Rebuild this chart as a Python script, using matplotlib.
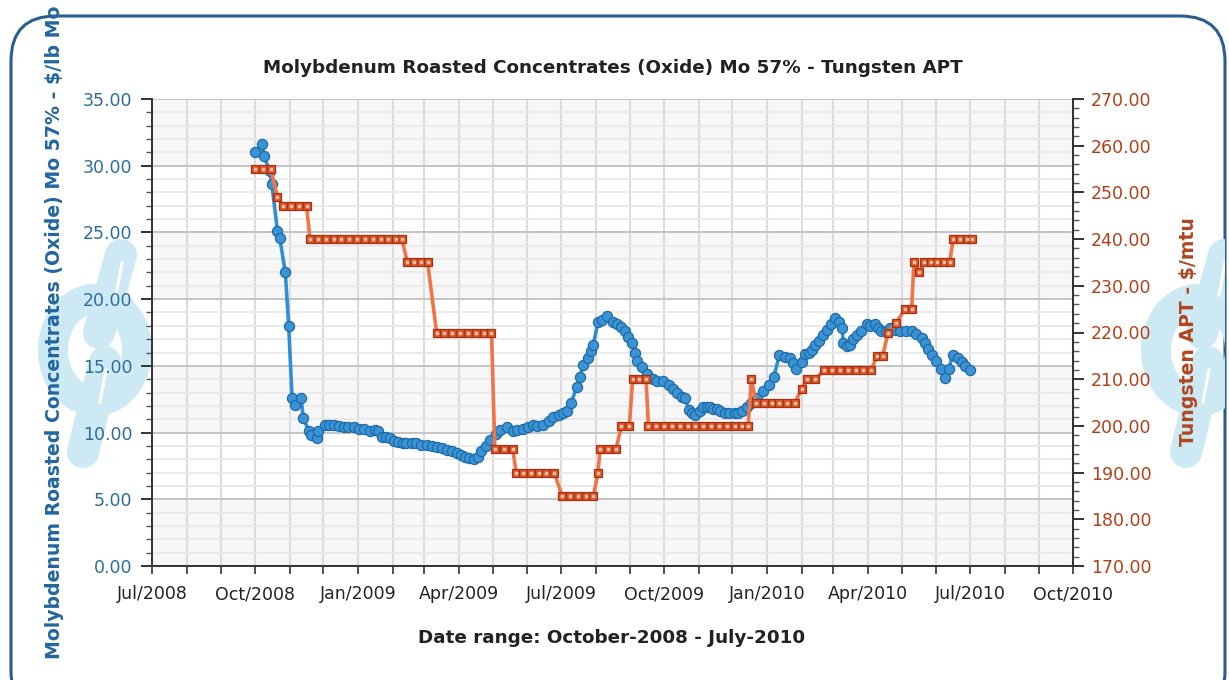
import matplotlib
matplotlib.use('Agg')
import matplotlib.pyplot as plt
import matplotlib.dates as mdates
import matplotlib.patches as patches
from matplotlib.ticker import MultipleLocator, FormatStrFormatter
import pandas as pd

# --- data ---
mo_dates = ['2008-10-01', '2008-10-07', '2008-10-09', '2008-10-14', '2008-10-16', '2008-10-21',
            '2008-10-23', '2008-10-28', '2008-10-31', '2008-11-03', '2008-11-06', '2008-11-11',
            '2008-11-13', '2008-11-18', '2008-11-20', '2008-11-25', '2008-11-26', '2008-12-02',
            '2008-12-06', '2008-12-10', '2008-12-15', '2008-12-19', '2008-12-23', '2008-12-28',
            '2009-01-02', '2009-01-06', '2009-01-12', '2009-01-16', '2009-01-19', '2009-01-22',
            '2009-01-26', '2009-01-29', '2009-02-02', '2009-02-06', '2009-02-10', '2009-02-13',
            '2009-02-18', '2009-02-22', '2009-02-26', '2009-03-03', '2009-03-08', '2009-03-12',
            '2009-03-17', '2009-03-21', '2009-03-26', '2009-03-30', '2009-04-03', '2009-04-06',
            '2009-04-10', '2009-04-14', '2009-04-18', '2009-04-21', '2009-04-25', '2009-04-29',
            '2009-05-04', '2009-05-08', '2009-05-14', '2009-05-19', '2009-05-23', '2009-05-28',
            '2009-06-02', '2009-06-06', '2009-06-10', '2009-06-15', '2009-06-20', '2009-06-24',
            '2009-06-29', '2009-07-03', '2009-07-06', '2009-07-10', '2009-07-15', '2009-07-18',
            '2009-07-21', '2009-07-25', '2009-07-28', '2009-07-30', '2009-08-03', '2009-08-07',
            '2009-08-11', '2009-08-16', '2009-08-20', '2009-08-24', '2009-08-27', '2009-08-30',
            '2009-09-02', '2009-09-05', '2009-09-07', '2009-09-11', '2009-09-16', '2009-09-21',
            '2009-09-25', '2009-09-30', '2009-10-05', '2009-10-09', '2009-10-13', '2009-10-17',
            '2009-10-20', '2009-10-23', '2009-10-26', '2009-10-29', '2009-11-02', '2009-11-05',
            '2009-11-08', '2009-11-11', '2009-11-14', '2009-11-17', '2009-11-20', '2009-11-24',
            '2009-11-28', '2009-12-03', '2009-12-06', '2009-12-10', '2009-12-14', '2009-12-18',
            '2009-12-23', '2009-12-28', '2010-01-03', '2010-01-07', '2010-01-12', '2010-01-17',
            '2010-01-21', '2010-01-24', '2010-01-27', '2010-02-01', '2010-02-04', '2010-02-07',
            '2010-02-10', '2010-02-13', '2010-02-16', '2010-02-20', '2010-02-23', '2010-02-27',
            '2010-03-03', '2010-03-06', '2010-03-09', '2010-03-10', '2010-03-13', '2010-03-16',
            '2010-03-19', '2010-03-22', '2010-03-26', '2010-03-31', '2010-04-03', '2010-04-07',
            '2010-04-10', '2010-04-13', '2010-04-17', '2010-04-21', '2010-04-25', '2010-04-30',
            '2010-05-05', '2010-05-10', '2010-05-14', '2010-05-19', '2010-05-22', '2010-05-25',
            '2010-05-28', '2010-06-01', '2010-06-05', '2010-06-09', '2010-06-12', '2010-06-16',
            '2010-06-20', '2010-06-24', '2010-06-27', '2010-07-01']
mo_price = [31.0, 31.6, 30.7, 29.6, 28.6, 25.1,
            24.6, 22.0, 18.0, 12.6, 12.1, 12.6,
            11.1, 10.1, 9.8, 9.6, 10.1, 10.6,
            10.6, 10.6, 10.5, 10.4, 10.4, 10.4,
            10.3, 10.3, 10.1, 10.2, 10.1, 9.7,
            9.7, 9.6, 9.4, 9.3, 9.2, 9.2,
            9.2, 9.2, 9.1, 9.07, 9.0, 8.95,
            8.85, 8.7, 8.6, 8.45, 8.3, 8.2,
            8.1, 8.0, 8.2, 8.6, 9.0, 9.45,
            9.9, 10.2, 10.4, 10.1, 10.2, 10.3,
            10.4, 10.6, 10.5, 10.6, 10.9, 11.2,
            11.3, 11.5, 11.6, 12.2, 13.4, 14.2,
            15.1, 15.6, 16.1, 16.6, 18.3, 18.4,
            18.7, 18.3, 18.1, 17.9, 17.6, 17.2,
            16.7, 16.0, 15.4, 14.9, 14.4, 14.0,
            13.9, 13.9, 13.6, 13.3, 13.0, 12.7,
            12.6, 11.7, 11.5, 11.3, 11.6, 11.9,
            11.9, 11.95, 11.8, 11.8, 11.6, 11.5,
            11.45, 11.45, 11.5, 11.6, 11.9, 12.2,
            12.6, 13.1, 13.6, 14.2, 15.8, 15.7,
            15.6, 15.2, 14.8, 15.3, 15.9, 16.0,
            16.2, 16.6, 16.9, 17.3, 17.7, 18.1,
            18.6, 18.3, 17.8, 16.7, 16.5, 16.6,
            17.0, 17.3, 17.6, 18.1, 18.0, 18.1,
            17.8, 17.6, 17.6, 17.8, 17.7, 17.6,
            17.6, 17.6, 17.4, 17.1, 16.7, 16.3,
            15.8, 15.4, 14.8, 14.1, 14.8, 15.8,
            15.6, 15.3, 15.0, 14.7]

w_dates = ['2008-10-01', '2008-10-08', '2008-10-15', '2008-10-21', '2008-10-26', '2008-11-02',
           '2008-11-09', '2008-11-16', '2008-11-19', '2008-11-26', '2008-12-03', '2008-12-10',
           '2008-12-17', '2008-12-24', '2008-12-31', '2009-01-07', '2009-01-14', '2009-01-21',
           '2009-01-28', '2009-02-04', '2009-02-09', '2009-02-14', '2009-02-20', '2009-02-26',
           '2009-03-04', '2009-03-12', '2009-03-19', '2009-03-26', '2009-04-02', '2009-04-09',
           '2009-04-16', '2009-04-23', '2009-04-30', '2009-05-03', '2009-05-11', '2009-05-19',
           '2009-05-22', '2009-05-28', '2009-06-04', '2009-06-11', '2009-06-18', '2009-06-25',
           '2009-07-02', '2009-07-09', '2009-07-16', '2009-07-23', '2009-07-30', '2009-08-03',
           '2009-08-05', '2009-08-12', '2009-08-19', '2009-08-24', '2009-08-31', '2009-09-03',
           '2009-09-09', '2009-09-15', '2009-09-17', '2009-09-24', '2009-10-01', '2009-10-08',
           '2009-10-15', '2009-10-22', '2009-10-29', '2009-11-05', '2009-11-12', '2009-11-19',
           '2009-11-26', '2009-12-03', '2009-12-10', '2009-12-15', '2009-12-18', '2009-12-22',
           '2009-12-29', '2010-01-05', '2010-01-12', '2010-01-19', '2010-01-26', '2010-02-01',
           '2010-02-06', '2010-02-13', '2010-02-21', '2010-02-28', '2010-03-07', '2010-03-14',
           '2010-03-21', '2010-03-28', '2010-04-04', '2010-04-09', '2010-04-14', '2010-04-19',
           '2010-04-26', '2010-05-04', '2010-05-10', '2010-05-12', '2010-05-17', '2010-05-21',
           '2010-05-27', '2010-06-02', '2010-06-08', '2010-06-13', '2010-06-16', '2010-06-22',
           '2010-06-28', '2010-07-03']
w_price = [255, 255, 255, 249, 247, 247,
           247, 247, 240, 240, 240, 240,
           240, 240, 240, 240, 240, 240,
           240, 240, 240, 235, 235, 235,
           235, 220, 220, 220, 220, 220,
           220, 220, 220, 195, 195, 195,
           190, 190, 190, 190, 190, 190,
           185, 185, 185, 185, 185, 190,
           195, 195, 195, 200, 200, 210,
           210, 210, 200, 200, 200, 200,
           200, 200, 200, 200, 200, 200,
           200, 200, 200, 200, 210, 205,
           205, 205, 205, 205, 205, 208,
           210, 210, 212, 212, 212, 212,
           212, 212, 212, 215, 215, 220,
           222, 225, 225, 235, 233, 235,
           235, 235, 235, 235, 240, 240,
           240, 240]

mo_dates = pd.to_datetime(mo_dates)
w_dates = pd.to_datetime(w_dates)

W, H = 1229, 680
fig = plt.figure(figsize=(W / 100, H / 100), dpi=100)
fig.patch.set_facecolor('white')

# --- frame & watermark (pixel coordinates) ---
bg = fig.add_axes([0, 0, 1, 1], zorder=0)
bg.set_xlim(0, W); bg.set_ylim(H, 0); bg.axis('off')
frame = patches.FancyBboxPatch((11, 16), 1214, 700, boxstyle='round,pad=0,rounding_size=45',
                               fc='white', ec='#2c5d8f', lw=2.2, zorder=1)
bg.add_patch(frame)
wm = '#cdeaf4'
pt = 72 / 100  # px -> pt
for cx in [95, 1198]:
    ring = patches.Ellipse((cx, 350), 84, 102, fill=False, ec=wm, lw=30 * pt, zorder=2)
    bg.add_patch(ring)
    ring.set_clip_path(frame)
    for (x1, y1, x2, y2) in [(cx + 26, 255, cx + 4, 333), (cx + 10, 362, cx - 12, 452)]:
        ln, = bg.plot([x1, x2], [y1, y2], color=wm, lw=32 * pt, solid_capstyle='round', zorder=2)
        ln.set_clip_path(frame)
        sl, = bg.plot([x1 + 1, x1 - 5], [y1 + 8, y1 + 40], color='white', lw=3 * pt, zorder=3)
        sl.set_clip_path(frame)

# --- main axes ---
ax = fig.add_axes([152 / W, 1 - 566 / H, (1073 - 152) / W, (566 - 99) / H], zorder=2)
ax.set_facecolor('white')
for lo in [0, 10, 20, 30]:
    ax.axhspan(lo, lo + 5, color='#f7f7f7', zorder=0, lw=0)

ax.set_xlim(pd.Timestamp('2008-07-01'), pd.Timestamp('2010-10-01'))
ax.set_ylim(0, 35)
ax.xaxis.set_major_locator(mdates.MonthLocator(bymonth=[1, 4, 7, 10]))
ax.xaxis.set_minor_locator(mdates.MonthLocator())
ax.xaxis.set_major_formatter(mdates.DateFormatter('%b/%Y'))
ax.yaxis.set_major_locator(MultipleLocator(5))
ax.yaxis.set_minor_locator(MultipleLocator(1))
ax.yaxis.set_major_formatter(FormatStrFormatter('%.2f'))

ax.grid(True, axis='x', which='both', color='#dcdcdc', lw=1.5, zorder=0.5)
ax.grid(True, axis='y', which='minor', color='#e8e8e8', lw=1.2, zorder=0.5)
ax.grid(True, axis='y', which='major', color='#c4c4c4', lw=1.4, zorder=0.6)
ax.set_axisbelow(True)

for s in ['left', 'bottom', 'right']:
    ax.spines[s].set_color('#333333'); ax.spines[s].set_linewidth(1.4)
ax.spines['top'].set_visible(False)
ax.tick_params(axis='y', which='major', length=8, width=1.4, color='#333333',
               labelsize=12.5, labelcolor='#2b6c9e', pad=6)
ax.tick_params(axis='y', which='minor', length=4, width=1, color='#555555')
ax.tick_params(axis='x', which='both', length=6, width=1.2, color='#333333',
               labelsize=12.5, labelcolor='#222222', pad=8)

ax.plot(mo_dates, mo_price, color='#2e8fd6', lw=2.6, marker='o', ms=7.3,
        mfc='#3a93d4', mec='#1e6aa6', mew=0.9, zorder=3)

ax2 = ax.twinx()
ax2.set_ylim(170, 270)
ax2.yaxis.set_major_locator(MultipleLocator(10))
ax2.yaxis.set_minor_locator(MultipleLocator(2))
ax2.yaxis.set_major_formatter(FormatStrFormatter('%.2f'))
ax2.spines['top'].set_visible(False)
ax2.spines['left'].set_visible(False)
ax2.spines['bottom'].set_visible(False)
ax2.spines['right'].set_color('#333333'); ax2.spines['right'].set_linewidth(1.4)
ax2.tick_params(axis='y', which='major', length=8, width=1.4, color='#333333',
                labelsize=12.5, labelcolor='#b23f17', pad=5)
ax2.tick_params(axis='y', which='minor', length=4, width=1, color='#555555')

ax2.plot(w_dates, w_price, color='#f07446', lw=2.6, marker='s', ms=6,
         mfc='#e0562a', mec='#a33214', mew=0.9, zorder=3)
ax2.plot(w_dates, w_price, ls='none', marker='s', ms=1.6, color='#f6c2a8', zorder=4)

# --- texts ---
fig.text((152 + 1073) / 2 / W, 1 - 68 / H, 'Molybdenum Roasted Concentrates (Oxide) Mo 57% - Tungsten APT',
         ha='center', va='center', fontsize=13.2, fontweight='bold', color='#222222')
fig.text(612 / W, 1 - 638 / H, 'Date range: October-2008 - July-2010',
         ha='center', va='center', fontsize=13.2, fontweight='bold', color='#222222')
fig.text(55 / W, 1 - 332 / H, 'Molybdenum Roasted Concentrates (Oxide) Mo 57% - $/lb Mo',
         ha='center', va='center', rotation=90, fontsize=13.6, fontweight='bold', color='#2166a0')
fig.text(1188 / W, 1 - 332 / H, 'Tungsten APT - $/mtu',
         ha='center', va='center', rotation=90, fontsize=13.6, fontweight='bold', color='#b0461e')

fig.savefig('out.png', dpi=100)
